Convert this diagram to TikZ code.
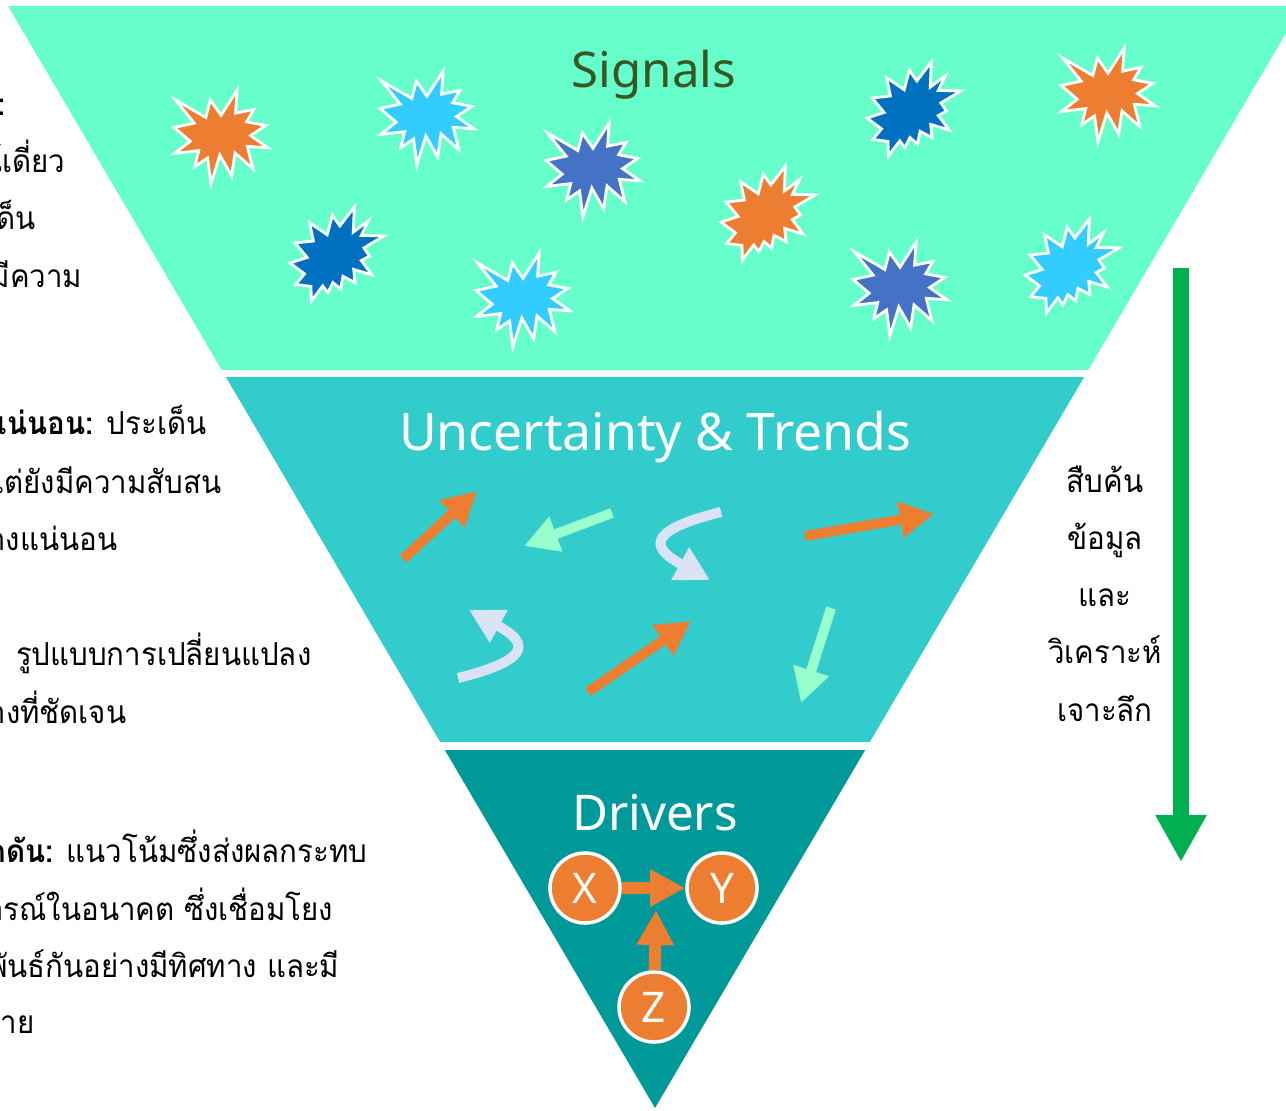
\documentclass[tikz,border=0pt]{standalone}
\usepackage{fontspec}
\setmainfont{Noto Sans}
\newfontfamily\thaifont[Script=Thai,FakeStretch=0.93]{Loma}
\usetikzlibrary{arrows.meta}

\definecolor{sigcol}{HTML}{66FFCC}
\definecolor{trendcol}{HTML}{33CCCC}
\definecolor{drivecol}{HTML}{009999}
\definecolor{burstorange}{HTML}{ED7D31}
\definecolor{burstsky}{HTML}{33CCFF}
\definecolor{burstblue}{HTML}{4472C4}
\definecolor{burstnavy}{HTML}{0070C0}
\definecolor{mint}{HTML}{99FFCC}
\definecolor{paleblue}{HTML}{DAE3F3}
\definecolor{titlegreen}{HTML}{385723}
\definecolor{probegreen}{HTML}{00B050}

%Explosion shapes (x, y, colour, size)
\newcommand{\burstA}[4]{\filldraw[#3,draw=white,line width=0.8pt,shift={(#1,#2)},scale=#4]
 (0,-0.2315) -- (0.1723,-0.5) -- (0.1553,-0.2535) -- (0.3509,-0.2937) -- (0.2732,-0.1613)
 -- (0.4767,-0.1233) -- (0.3151,-0.0150) -- (0.5,0.1153) -- (0.2795,0.0992) -- (0.3400,0.3377)
 -- (0.1491,0.1693) -- (0.1133,0.4137) -- (-0.0124,0.1914) -- (-0.1072,0.5) -- (-0.1428,0.2235)
 -- (-0.2795,0.3156) -- (-0.2376,0.1452) -- (-0.4938,0.1753) -- (-0.3277,0.0451) -- (-0.5,-0.1012)
 -- (-0.2858,-0.1474) -- (-0.4829,-0.3938) -- (-0.1615,-0.2074) -- (-0.1133,-0.3938) -- cycle;}
\newcommand{\burstB}[4]{\filldraw[#3,draw=white,line width=0.8pt,shift={(#1,#2)},scale=#4]
 (0.0306,-0.2990) -- (0.1847,-0.5) -- (0.1725,-0.2326) -- (0.3337,-0.3531) -- (0.2583,-0.1976)
 -- (0.5,-0.1924) -- (0.2863,-0.0647) -- (0.3458,0.0227) -- (0.2583,0.0699) -- (0.3739,0.2237)
 -- (0.1778,0.1644) -- (0.1918,0.3042) -- (0.0639,0.2377) -- (0.0376,0.3723) -- (-0.0430,0.3042)
 -- (-0.0972,0.4126) -- (-0.1515,0.3391) -- (-0.2724,0.5) -- (-0.2775,0.3444) -- (-0.4405,0.3252)
 -- (-0.3458,0.2116) -- (-0.5,0.0962) -- (-0.3178,0.0367) -- (-0.4457,-0.1171) -- (-0.2513,-0.1381)
 -- (-0.2916,-0.3322) -- (-0.1042,-0.2045) -- (-0.0499,-0.4126) -- cycle;}

\begin{document}
\begin{tikzpicture}
[x=0.01cm,y=-0.01cm,
 title/.style={font=\fontsize{14}{16}\selectfont},
 thaitext/.style={font=\thaifont\fontsize{9}{11}\selectfont,inner sep=0pt},
 flow/.style={line width=0.1cm,-{Triangle[width=0.35cm,length=0.34cm]}},
 var/.style={circle,fill=burstorange,draw=white,line width=1pt,minimum size=0.7cm,inner sep=0pt,
   text=white,font=\fontsize{12}{14}\selectfont},
 link/.style={burstorange,line width=0.12cm,-{Triangle[width=0.35cm,length=0.35cm]}},]

\useasboundingbox (0,0) rectangle (1286,1110);
\clip (0,0) rectangle (1286,1110);

%Funnel sides
\def\s{0.587}
\def\ax{655}
\def\ay{1108}

%Bands of the funnel
\fill[sigcol] ({\ax-(\ay-6)*\s},6) -- ({\ax+(\ay-6)*\s},6) -- ({\ax+(\ay-370)*\s},370) -- ({\ax-(\ay-370)*\s},370) -- cycle;
\fill[trendcol] ({\ax-(\ay-377)*\s},377) -- ({\ax+(\ay-377)*\s},377) -- ({\ax+(\ay-742)*\s},742) -- ({\ax-(\ay-742)*\s},742) -- cycle;
\fill[drivecol] ({\ax-(\ay-750)*\s},750) -- ({\ax+(\ay-750)*\s},750) -- (\ax,\ay) -- cycle;

%Band titles
\node[title,text=titlegreen] (signals) at (654,75) {Signals};
\node[title,text=white,font=\fontsize{14.7}{16}\selectfont] (trends) at (655,437) {Uncertainty \& Trends};
\node[title,text=white] (drivers) at (655,813) {Drivers};

%Signals
\burstA{221}{137}{burstorange}{94}
\burstA{427}{118}{burstsky}{94}
\burstA{593}{170}{burstblue}{94}
\burstA{523}{300}{burstsky}{94}
\burstA{1108}{95}{burstorange}{94}
\burstA{900}{289}{burstblue}{94}
\burstB{337}{254}{burstnavy}{94}
\burstB{914}{109}{burstnavy}{94}
\burstB{768}{213}{burstorange}{94}
\burstB{1072}{266}{burstsky}{94}

%Trends
\draw[flow,burstorange] (403,559) -- (477,491);
\draw[flow,mint] (612,513) -- (524,546);
\draw[flow,paleblue] (721,512) .. controls (640,532) and (655,550) .. (710,580);
\draw[flow,burstorange] (805,536) -- (934,514);
\draw[flow,paleblue] (458,678) .. controls (539,658) and (524,640) .. (469,610);
\draw[flow,burstorange] (588,692) -- (691,621);
\draw[flow,mint] (831,608) -- (801,703);

%Drivers
\node[var] (X) at (585,888) {X};
\node[var] (Y) at (722,888) {Y};
\node[var] (Z) at (654,1007) {Z};
\coordinate (ZY) at (656,910);
\draw[link] (X) -- (Y);
\draw[link] (Z) -- (ZY);

%Probe arrow
\coordinate (probetop) at (1181,268);
\coordinate (probetip) at (1181,862);
\draw[probegreen,line width=0.16cm,-{Triangle[width=0.48cm,length=0.47cm]}] (probetop) -- (probetip);
\node[thaitext,anchor=base] (probe1) at (1105,492) {สืบค้น};
\node[thaitext,anchor=base] (probe2) at (1105,549) {ข้อมูล};
\node[thaitext,anchor=base] (probe3) at (1105,606) {และ};
\node[thaitext,anchor=base] (probe4) at (1105,663) {วิเคราะห์};
\node[thaitext,anchor=base] (probe5) at (1105,721) {เจาะลึก};

%Left notes
\node[thaitext,anchor=base east] (sig1) at (6,116) {\textbf{:}};
\node[thaitext,anchor=base east] (sig2) at (66,173) {ณ์เดี่ยว};
\node[thaitext,anchor=base east] (sig3) at (36,230) {ด็น};
\node[thaitext,anchor=base east] (sig4) at (83,288) {มีความ};
\node[thaitext,anchor=base east] (unc1) at (207,435) {\textbf{แน่นอน:} ประเด็น};
\node[thaitext,anchor=base east] (unc2) at (222,493) {แต่ยังมีความสับสน};
\node[thaitext,anchor=base east] (unc3) at (118,550) {างแน่นอน};
\node[thaitext,anchor=base east] (trd1) at (312,665) {\textbf{:} รูปแบบการเปลี่ยนแปลง};
\node[thaitext,anchor=base east] (trd2) at (127,723) {างที่ชัดเจน};
\node[thaitext,anchor=base east] (drv1) at (368,862) {\textbf{กดัน:} แนวโน้มซึ่งส่งผลกระทบ};
\node[thaitext,anchor=base east] (drv2) at (334,920) {การณ์ในอนาคต ซึ่งเชื่อมโยง};
\node[thaitext,anchor=base east] (drv3) at (340,977) {พันธ์กันอย่างมีทิศทาง และมี};
\node[thaitext,anchor=base east] (drv4) at (35,1033) {าย};

\end{tikzpicture}
\end{document}
